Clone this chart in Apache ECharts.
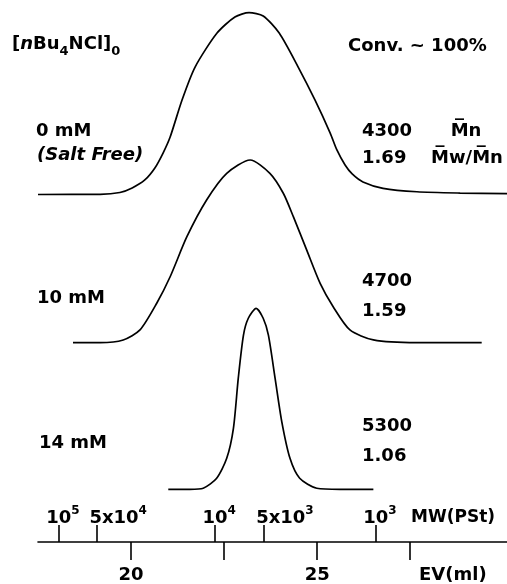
<!DOCTYPE html>
<html>
<head>
<meta charset="utf-8">
<script src="https://cdn.jsdelivr.net/npm/echarts@6/dist/echarts.min.js"></script>
<style>html,body{margin:0;padding:0;background:#fff;}#c{width:507px;height:584px;}</style>
</head>
<body>
<div id="c"></div>
<script>
// ---- data ----
// elution volume (ml) and normalized RI intensity for each trace
const ev0 = [17.50,19.17,19.70,20.03,20.37,20.64,20.86,21.05,21.37,21.72,22.31,22.79,23.17,23.55,23.98,24.49,24.94,25.35,25.53,25.75,25.94,26.23,26.77,27.68,28.84,30.10];
const int0 = [0,0.001,0.011,0.036,0.080,0.146,0.228,0.316,0.520,0.701,0.888,0.976,1.0,0.982,0.888,0.701,0.520,0.338,0.245,0.162,0.113,0.069,0.034,0.015,0.008,0.005];
const ev1 = [18.44,19.17,19.79,20.24,20.69,21.05,21.50,22.03,22.57,23.20,23.73,24.09,24.36,24.72,25.08,25.43,25.88,26.51,27.67,29.42];
const int1 = [0,0,0.015,0.070,0.216,0.361,0.580,0.781,0.927,1.0,0.927,0.818,0.690,0.507,0.325,0.197,0.070,0.015,0,0];
const ev2 = [21.00,21.58,21.94,22.30,22.57,22.75,22.88,23.02,23.15,23.36,23.55,23.69,23.87,24.05,24.27,24.53,24.99,25.61,26.51];
const int2 = [0,0,0.006,0.061,0.171,0.337,0.613,0.852,0.945,1.0,0.945,0.852,0.613,0.373,0.171,0.061,0.006,0,0];

const concLabels = ['0 mM','10 mM','14 mM'];
const mnValues = ['4300','4700','5300'];
const pdiValues = ['1.69','1.59','1.06'];

const evTicks = [20, 22.5, 25, 27.5];
const evTickLabels = [20, 25];
// MW (PSt) calibration marks, in elution volume
const mwPos = [18.06, 19.09, 22.26, 23.57, 26.58];
const mwMantissa = ['', '5x', '', '5x', ''];
const mwExponent = ['5', '4', '4', '3', '3'];

// ---- chart ----
const FONT = '"DejaVu Sans", sans-serif';
const xMin = 17.5, xMax = 30.1;
const chart = echarts.init(document.getElementById('c'), null, {renderer: 'canvas'});

const traces = [[ev0, int0], [ev1, int1], [ev2, int2]];
const gridTops = [12.7, 160, 308.3];
const gridHeights = [181.8, 182.7, 181];

const grids = traces.map((t, i) => ({left: 38, right: 0, top: gridTops[i], height: gridHeights[i]}));
for (let k = 0; k < 3; k++) grids.push({left: 38, right: 0, top: 500, height: 42});

const xAxes = traces.map((t, i) => ({type: 'value', gridIndex: i, min: xMin, max: xMax, show: false}));
xAxes.push({
  type: 'value', gridIndex: 3, min: xMin, max: xMax, position: 'bottom',
  axisLine: {show: true, lineStyle: {color: '#000', width: 1.6}},
  axisTick: {show: true, customValues: evTicks, length: 18, lineStyle: {color: '#000', width: 1.6}},
  axisLabel: {show: true, customValues: evTickLabels, margin: 24, color: '#000',
    fontFamily: FONT, fontWeight: 'bold', fontSize: 18},
  splitLine: {show: false}
});

function mwIndex(v) {
  let k = 0, best = 1e9;
  mwPos.forEach((p, j) => { if (Math.abs(p - v) < best) { best = Math.abs(p - v); k = j; } });
  return k;
}
const mwRich = {
  b: {fontFamily: FONT, fontWeight: 'bold', fontSize: 18, lineHeight: 27, verticalAlign: 'middle', color: '#000'},
  p: {fontFamily: FONT, fontWeight: 'bold', fontSize: 12, lineHeight: 12, verticalAlign: 'top', color: '#000'},
  sA: {width: 42, lineHeight: 27},
  sB: {width: 8, lineHeight: 27}
};
const decadePos = mwPos.filter((p, j) => !mwMantissa[j]);
const halfPos = mwPos.filter((p, j) => mwMantissa[j]);
// decades: ticks for all marks + 10^n labels
xAxes.push({
  type: 'value', gridIndex: 4, min: xMin, max: xMax, position: 'bottom',
  axisLine: {show: false},
  axisTick: {show: true, inside: true, customValues: mwPos, length: 17, lineStyle: {color: '#000', width: 1.6}},
  axisLabel: {show: true, inside: true, customValues: decadePos, margin: 10, color: '#000',
    showMinLabel: true, showMaxLabel: true, hideOverlap: false,
    formatter: function (v) { const k = mwIndex(v); return '{sB|}{b|10}{p|' + mwExponent[k] + '}'; },
    rich: mwRich},
  splitLine: {show: false}
});
// 5x10^n labels
xAxes.push({
  type: 'value', gridIndex: 5, min: xMin, max: xMax, position: 'bottom',
  axisLine: {show: false}, axisTick: {show: false},
  axisLabel: {show: true, inside: true, customValues: halfPos, margin: 10, color: '#000',
    showMinLabel: true, showMaxLabel: true, hideOverlap: false,
    formatter: function (v) { const k = mwIndex(v); return '{sA|}{b|' + mwMantissa[k] + '10}{p|' + mwExponent[k] + '}'; },
    rich: mwRich},
  splitLine: {show: false}
});

const yAxes = grids.map((g, i) => ({type: 'value', gridIndex: i, min: 0, max: 1, show: false}));

const series = traces.map((t, i) => ({
  type: 'line', xAxisIndex: i, yAxisIndex: i,
  data: t[0].map((x, j) => [x, t[1][j]]),
  showSymbol: false, smooth: 0.25,
  lineStyle: {color: '#000', width: 1.7}, silent: true, clip: false
}));

const txt = (x, y, text, extra) => ({
  type: 'text', x: x, y: y, silent: true,
  style: Object.assign({text: text, fill: '#000', font: 'bold 18px ' + FONT, verticalAlign: 'middle', align: 'left'}, extra || {})
});

const subRich = {
  b: {fontFamily: FONT, fontWeight: 'bold', fontSize: 18, lineHeight: 29, verticalAlign: 'middle', fill: '#000'},
  i: {fontFamily: FONT, fontWeight: 'bold', fontStyle: 'italic', fontSize: 18, lineHeight: 29, verticalAlign: 'middle', fill: '#000'},
  s: {fontFamily: FONT, fontWeight: 'bold', fontSize: 13, lineHeight: 13, verticalAlign: 'bottom', fill: '#000'}
};

const nameY = [131, 298, 443];
const numY = [131, 281, 426];
const pdiY = [158, 311, 456];
const nameX = [36, 37, 39];

const graphic = [
  txt(12, 44, '{b|[}{i|n}{b|Bu}{s|4}{b|NCl]}{s|0}', {rich: subRich}),
  txt(348, 46, 'Conv. ~ 100%'),
  txt(37, 155, '(Salt Free)', {font: 'italic bold 18px ' + FONT}),
  txt(466, 131, 'M\u0305n', {align: 'center'}),
  txt(467, 158, 'M\u0305w/M\u0305n', {align: 'center'}),
  txt(411, 518, 'MW(PSt)', {font: 'bold 17px ' + FONT}),
  txt(419, 575, 'EV(ml)')
];
concLabels.forEach((s, i) => graphic.push(txt(nameX[i], nameY[i], s)));
mnValues.forEach((s, i) => graphic.push(txt(362, numY[i], s)));
pdiValues.forEach((s, i) => graphic.push(txt(362, pdiY[i], s)));

chart.setOption({
  animation: false,
  backgroundColor: '#fff',
  grid: grids, xAxis: xAxes, yAxis: yAxes, series: series, graphic: graphic
});
</script>
</body>
</html>
